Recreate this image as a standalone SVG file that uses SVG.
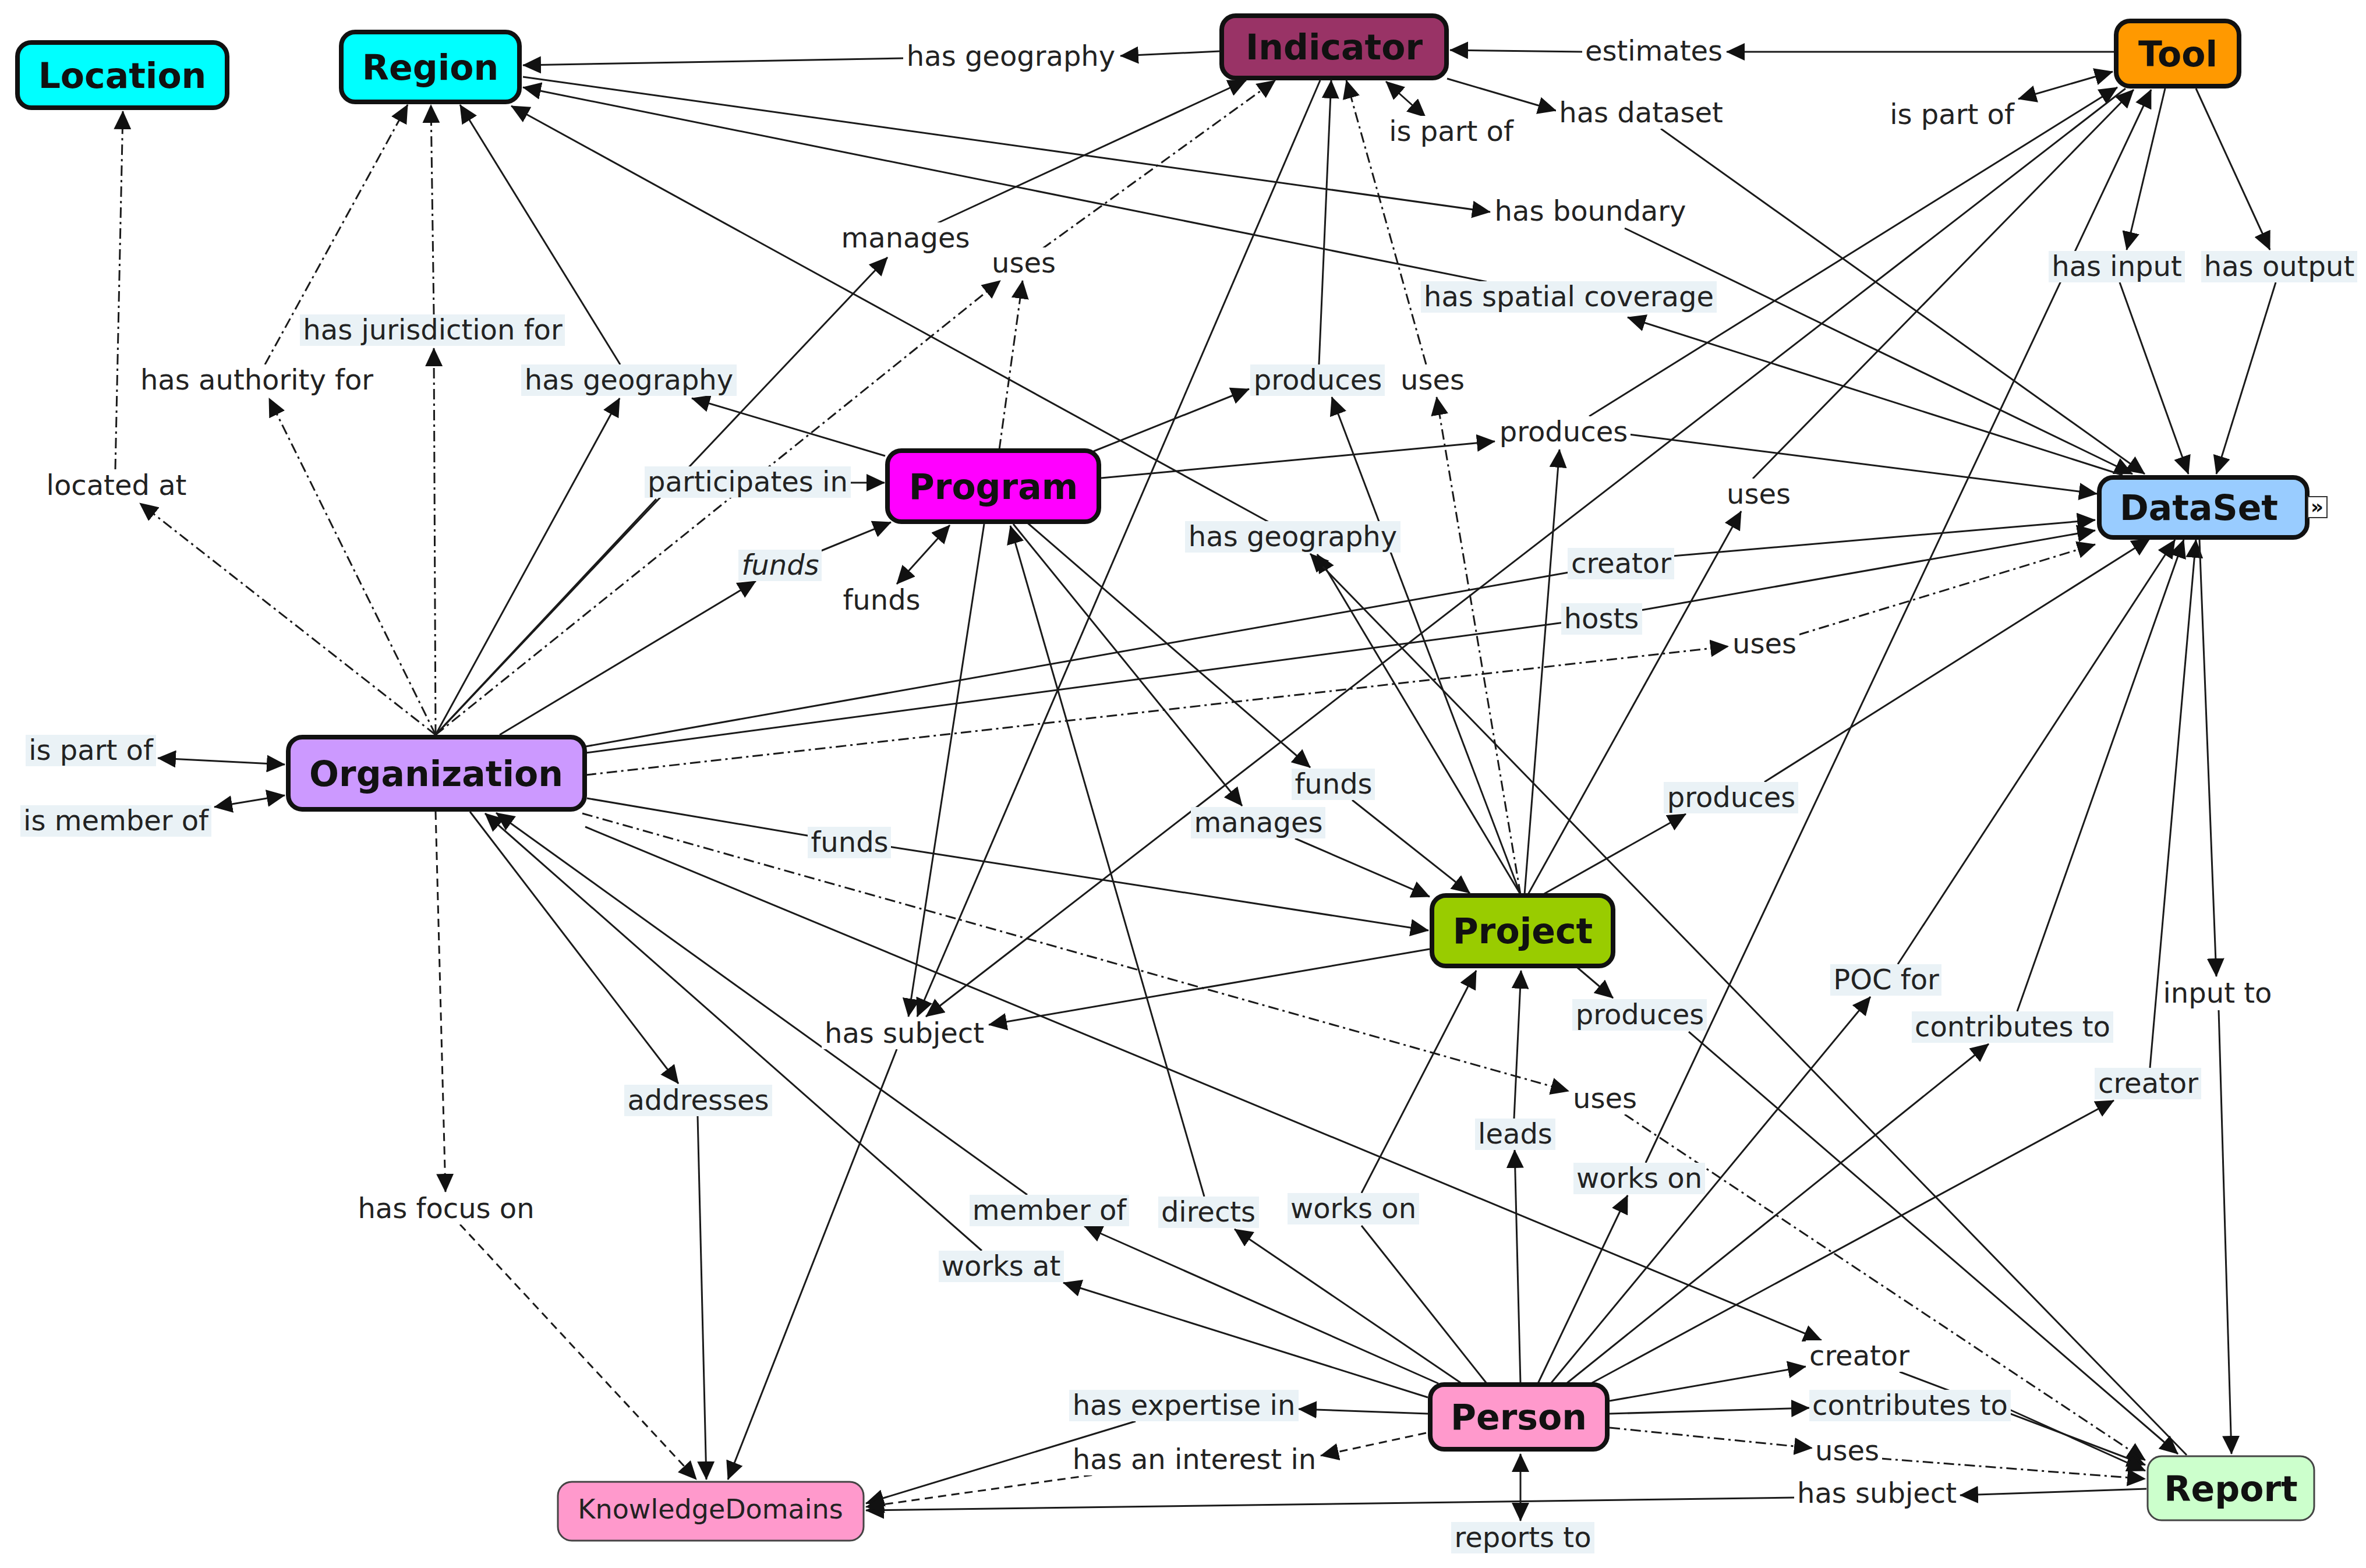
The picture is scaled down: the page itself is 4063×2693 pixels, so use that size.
<svg xmlns="http://www.w3.org/2000/svg" width="4063" height="2693" viewBox="0 0 4063 2693">
<style>
.nr{stroke:#111;stroke-width:8}
.tn{stroke:#444;stroke-width:3}
.nt{font-family:"DejaVu Sans",Verdana,sans-serif;font-weight:bold;font-size:60px;text-anchor:middle;fill:#111}
.kt{font-family:"DejaVu Sans",Verdana,sans-serif;font-size:46px;text-anchor:middle;fill:#222}
.lt{font-family:"DejaVu Sans",Verdana,sans-serif;font-size:48px;text-anchor:middle;fill:#222}
.lb{fill:#eaf2f6}
.lw{fill:#fff}
#connectors line{stroke:#1a1a1a;stroke-width:3;fill:none}
.e{marker-end:url(#a)}
.b{marker-start:url(#a);marker-end:url(#a)}
.dd{stroke-dasharray:18 7 4 7}
.ds{stroke-dasharray:14 9}
</style>
<defs>
<marker id="a" viewBox="0 0 32 30" refX="31" refY="15" markerWidth="32" markerHeight="30" markerUnits="userSpaceOnUse" orient="auto-start-reverse"><path d="M0,0 L32,15 L0,30 z" fill="#111"/></marker>
</defs>
<rect x="0" y="0" width="4063" height="2693" fill="#fff"/>
<g id="connectors">
<line class="e" x1="2094" y1="88" x2="1924" y2="96"/>
<line class="e" x1="1552" y1="100" x2="898" y2="112"/>
<line class="e" x1="3630" y1="89" x2="2965" y2="89"/>
<line class="e" x1="2720" y1="89" x2="2490" y2="86"/>
<line class="b" x1="2380" y1="140" x2="2448" y2="201"/>
<line class="e" x1="2485" y1="135" x2="2672" y2="190"/>
<line class="e" x1="2852" y1="221" x2="3683" y2="814"/>
<line class="e" x1="898" y1="132" x2="2559" y2="364"/>
<line class="e" x1="2790" y1="392" x2="3662" y2="814"/>
<line class="e" x1="3645" y1="816" x2="2795" y2="545"/>
<line class="e" x1="2553" y1="484" x2="898" y2="150"/>
<line class="e" x1="748" y1="1262" x2="1524" y2="442"/>
<line class="e" x1="1608" y1="384" x2="2140" y2="138"/>
<line class="e dd" x1="748" y1="1262" x2="1718" y2="482"/>
<line class="e dd" x1="1716" y1="772" x2="1756" y2="482"/>
<line class="e dd" x1="1790" y1="427" x2="2190" y2="138"/>
<line class="e dd" x1="748" y1="1262" x2="745" y2="598"/>
<line class="e dd" x1="745" y1="540" x2="740" y2="180"/>
<line class="e dd" x1="748" y1="1262" x2="462" y2="684"/>
<line class="e dd" x1="455" y1="626" x2="700" y2="180"/>
<line class="e dd" x1="748" y1="1262" x2="240" y2="864"/>
<line class="e dd" x1="198" y1="806" x2="211" y2="191"/>
<line class="e" x1="748" y1="1262" x2="1064" y2="684"/>
<line class="e" x1="1520" y1="783" x2="1188" y2="684"/>
<line class="e" x1="1065" y1="626" x2="790" y2="180"/>
<line x1="748" y1="1262" x2="1127" y2="857"/>
<line class="e" x1="1460" y1="829" x2="1519" y2="829"/>
<line class="e" x1="858" y1="1262" x2="1298" y2="998"/>
<line class="e" x1="1410" y1="946" x2="1530" y2="897"/>
<line class="b" x1="1631" y1="902" x2="1540" y2="1003"/>
<line class="e" x1="1878" y1="775" x2="2145" y2="668"/>
<line class="e" x1="2611" y1="1536" x2="2287" y2="682"/>
<line class="e" x1="2265" y1="626" x2="2286" y2="138"/>
<line class="e dd" x1="2611" y1="1536" x2="2467" y2="682"/>
<line class="e dd" x1="2449" y1="626" x2="2312" y2="138"/>
<line class="e" x1="1891" y1="821" x2="2567" y2="758"/>
<line class="e" x1="2618" y1="1536" x2="2678" y2="772"/>
<line class="e" x1="2797" y1="746" x2="3601" y2="848"/>
<line class="e" x1="2729" y1="715" x2="3636" y2="150"/>
<line class="e" x1="2624" y1="1536" x2="2990" y2="878"/>
<line class="e" x1="3010" y1="822" x2="3664" y2="154"/>
<line class="e" x1="3718" y1="152" x2="3652" y2="429"/>
<line class="e" x1="3640" y1="485" x2="3758" y2="814"/>
<line class="e" x1="3771" y1="152" x2="3898" y2="429"/>
<line class="e" x1="3908" y1="485" x2="3806" y2="814"/>
<line class="b" x1="3628" y1="123" x2="3466" y2="170"/>
<line class="e" x1="2611" y1="1536" x2="2262" y2="952"/>
<line class="e" x1="3755" y1="2499" x2="2250" y2="951"/>
<line class="e" x1="2185" y1="900" x2="878" y2="182"/>
<line x1="1006" y1="1282" x2="2694" y2="983"/>
<line class="e" x1="2872" y1="955" x2="3598" y2="893"/>
<line x1="1006" y1="1293" x2="2686" y2="1069"/>
<line class="e" x1="2818" y1="1048" x2="3598" y2="911"/>
<line class="e dd" x1="1006" y1="1331" x2="2968" y2="1110"/>
<line class="e dd" x1="3089" y1="1090" x2="3598" y2="935"/>
<line class="e" x1="1762" y1="896" x2="2250" y2="1318"/>
<line class="e" x1="2322" y1="1374" x2="2524" y2="1534"/>
<line class="e" x1="1740" y1="900" x2="2133" y2="1384"/>
<line class="e" x1="2224" y1="1440" x2="2455" y2="1540"/>
<line x1="1008" y1="1371" x2="1392" y2="1436"/>
<line class="e" x1="1526" y1="1454" x2="2453" y2="1598"/>
<line class="e" x1="1690" y1="900" x2="1560" y2="1746"/>
<line class="e" x1="2267" y1="138" x2="1575" y2="1746"/>
<line class="e" x1="3650" y1="152" x2="1590" y2="1746"/>
<line class="e" x1="2455" y1="1630" x2="1698" y2="1760"/>
<line class="e" x1="1540" y1="1802" x2="1250" y2="2541"/>
<line class="e" x1="2650" y1="1536" x2="2895" y2="1398"/>
<line class="e" x1="3030" y1="1343" x2="3692" y2="925"/>
<line class="e" x1="2709" y1="1662" x2="2770" y2="1714"/>
<line class="e" x1="2900" y1="1772" x2="3740" y2="2497"/>
<line class="e" x1="2663" y1="2376" x2="3212" y2="1712"/>
<line class="e" x1="3259" y1="1656" x2="3735" y2="927"/>
<line class="e" x1="2690" y1="2376" x2="3415" y2="1793"/>
<line class="e" x1="3464" y1="1737" x2="3750" y2="927"/>
<line class="e" x1="2732" y1="2376" x2="3630" y2="1890"/>
<line class="e" x1="3692" y1="1834" x2="3771" y2="927"/>
<line class="e" x1="3777" y1="927" x2="3806" y2="1677"/>
<line class="e" x1="3810" y1="1735" x2="3832" y2="2497"/>
<line class="e" x1="2641" y1="2376" x2="2795" y2="2053"/>
<line class="e" x1="2826" y1="1997" x2="3694" y2="154"/>
<line class="e" x1="807" y1="1394" x2="1165" y2="1861"/>
<line class="e" x1="1198" y1="1917" x2="1213" y2="2541"/>
<line class="e ds" x1="748" y1="1394" x2="765" y2="2047"/>
<line class="e ds" x1="790" y1="2103" x2="1196" y2="2541"/>
<line class="e" x1="2470" y1="2376" x2="1862" y2="2106"/>
<line class="e" x1="1764" y1="2052" x2="852" y2="1396"/>
<line class="e" x1="2452" y1="2400" x2="1826" y2="2203"/>
<line class="e" x1="1686" y1="2148" x2="833" y2="1397"/>
<line class="e" x1="2510" y1="2376" x2="2120" y2="2111"/>
<line class="e" x1="2068" y1="2055" x2="1735" y2="903"/>
<line x1="2553" y1="2376" x2="2338" y2="2105"/>
<line class="e" x1="2338" y1="2049" x2="2535" y2="1667"/>
<line class="e" x1="2611" y1="2376" x2="2601" y2="1975"/>
<line class="e" x1="2600" y1="1921" x2="2612" y2="1667"/>
<line class="e dd" x1="1000" y1="1397" x2="2694" y2="1874"/>
<line class="e dd" x1="2790" y1="1914" x2="3684" y2="2508"/>
<line class="e" x1="1005" y1="1420" x2="3128" y2="2302"/>
<line class="e" x1="2764" y1="2406" x2="3101" y2="2347"/>
<line class="e" x1="3262" y1="2356" x2="3684" y2="2516"/>
<line class="e" x1="2764" y1="2428" x2="3107" y2="2418"/>
<line class="e" x1="3451" y1="2421" x2="3684" y2="2526"/>
<line class="e dd" x1="2764" y1="2452" x2="3112" y2="2487"/>
<line class="e dd" x1="3230" y1="2505" x2="3684" y2="2540"/>
<line class="e" x1="3686" y1="2557" x2="3366" y2="2568"/>
<line class="e" x1="3083" y1="2572" x2="1487" y2="2594"/>
<line class="e" x1="2452" y1="2428" x2="2230" y2="2420"/>
<line class="e" x1="1950" y1="2441" x2="1487" y2="2582"/>
<line class="e ds" x1="2449" y1="2461" x2="2268" y2="2500"/>
<line class="e ds" x1="1898" y1="2530" x2="1487" y2="2588"/>
<line class="b" x1="2611" y1="2497" x2="2611" y2="2612"/>
<line class="b" x1="271" y1="1302" x2="489" y2="1313"/>
<line class="b" x1="368" y1="1386" x2="489" y2="1366"/>
</g>
<g id="labels">
<g id="lbl-has-geography-1"><rect class="lw" x="1551" y="70" width="370" height="54"/><text class="lt" x="1736" y="113">has geography</text></g>
<g id="lbl-estimates"><rect class="lw" x="2717" y="61" width="246" height="54"/><text class="lt" x="2840" y="104">estimates</text></g>
<g id="lbl-is-part-of-1"><rect class="lw" x="2380" y="199" width="224" height="54"/><text class="lt" x="2492" y="242">is part of</text></g>
<g id="lbl-has-dataset"><rect class="lw" x="2672" y="167" width="292" height="54"/><text class="lt" x="2818" y="210">has dataset</text></g>
<g id="lbl-has-boundary"><rect class="lw" x="2561" y="336" width="339" height="54"/><text class="lt" x="2731" y="379">has boundary</text></g>
<g id="lbl-has-spatial-coverage"><rect class="lb" x="2440" y="483" width="508" height="54"/><text class="lt" x="2694" y="526">has spatial coverage</text></g>
<g id="lbl-manages-1"><rect class="lw" x="1439" y="382" width="231" height="54"/><text class="lt" x="1555" y="425">manages</text></g>
<g id="lbl-uses-1"><rect class="lw" x="1698" y="425" width="120" height="54"/><text class="lt" x="1758" y="468">uses</text></g>
<g id="lbl-has-jurisdiction-for"><rect class="lb" x="515" y="540" width="455" height="54"/><text class="lt" x="743" y="583">has jurisdiction for</text></g>
<g id="lbl-has-authority-for"><rect class="lw" x="236" y="626" width="410" height="54"/><text class="lt" x="441" y="669">has authority for</text></g>
<g id="lbl-has-geography-2"><rect class="lb" x="895" y="626" width="370" height="54"/><text class="lt" x="1080" y="669">has geography</text></g>
<g id="lbl-located-at"><rect class="lw" x="75" y="807" width="251" height="54"/><text class="lt" x="200" y="850">located at</text></g>
<g id="lbl-participates-in"><rect class="lb" x="1107" y="801" width="354" height="54"/><text class="lt" x="1284" y="844">participates in</text></g>
<g id="lbl-funds-1"><rect class="lb" x="1268" y="944" width="143" height="54"/><text class="lt" x="1340" y="987" font-style="italic">funds</text></g>
<g id="lbl-funds-2"><rect class="lw" x="1442" y="1004" width="143" height="54"/><text class="lt" x="1514" y="1047">funds</text></g>
<g id="lbl-produces-1"><rect class="lb" x="2147" y="626" width="231" height="54"/><text class="lt" x="2263" y="669">produces</text></g>
<g id="lbl-uses-2"><rect class="lw" x="2400" y="626" width="120" height="54"/><text class="lt" x="2460" y="669">uses</text></g>
<g id="lbl-produces-2"><rect class="lw" x="2569" y="715" width="231" height="54"/><text class="lt" x="2685" y="758">produces</text></g>
<g id="lbl-uses-3"><rect class="lw" x="2960" y="822" width="120" height="54"/><text class="lt" x="3020" y="865">uses</text></g>
<g id="lbl-has-input"><rect class="lb" x="3518" y="431" width="234" height="54"/><text class="lt" x="3635" y="474">has input</text></g>
<g id="lbl-has-output"><rect class="lb" x="3780" y="431" width="268" height="54"/><text class="lt" x="3914" y="474">has output</text></g>
<g id="lbl-is-part-of-2"><rect class="lw" x="3240" y="170" width="224" height="54"/><text class="lt" x="3352" y="213">is part of</text></g>
<g id="lbl-has-geography-3"><rect class="lb" x="2035" y="895" width="370" height="54"/><text class="lt" x="2220" y="938">has geography</text></g>
<g id="lbl-creator-1"><rect class="lb" x="2692" y="941" width="183" height="54"/><text class="lt" x="2784" y="984">creator</text></g>
<g id="lbl-hosts"><rect class="lb" x="2681" y="1036" width="139" height="54"/><text class="lt" x="2750" y="1079">hosts</text></g>
<g id="lbl-uses-4"><rect class="lw" x="2970" y="1079" width="120" height="54"/><text class="lt" x="3030" y="1122">uses</text></g>
<g id="lbl-funds-3"><rect class="lb" x="2218" y="1320" width="143" height="54"/><text class="lt" x="2290" y="1363">funds</text></g>
<g id="lbl-manages-2"><rect class="lb" x="2045" y="1386" width="231" height="54"/><text class="lt" x="2161" y="1429">manages</text></g>
<g id="lbl-produces-3"><rect class="lb" x="2857" y="1343" width="231" height="54"/><text class="lt" x="2973" y="1386">produces</text></g>
<g id="lbl-is-part-of-3"><rect class="lb" x="44" y="1262" width="224" height="54"/><text class="lt" x="156" y="1305">is part of</text></g>
<g id="lbl-is-member-of"><rect class="lb" x="35" y="1383" width="328" height="54"/><text class="lt" x="199" y="1426">is member of</text></g>
<g id="lbl-funds-4"><rect class="lb" x="1387" y="1420" width="143" height="54"/><text class="lt" x="1459" y="1463">funds</text></g>
<g id="lbl-has-subject-1"><rect class="lw" x="1411" y="1748" width="284" height="54"/><text class="lt" x="1553" y="1791">has subject</text></g>
<g id="lbl-produces-4"><rect class="lb" x="2700" y="1716" width="231" height="54"/><text class="lt" x="2816" y="1759">produces</text></g>
<g id="lbl-poc-for"><rect class="lb" x="3143" y="1656" width="191" height="54"/><text class="lt" x="3239" y="1699">POC for</text></g>
<g id="lbl-contributes-to-1"><rect class="lb" x="3283" y="1737" width="346" height="54"/><text class="lt" x="3456" y="1780">contributes to</text></g>
<g id="lbl-input-to"><rect class="lw" x="3710" y="1679" width="197" height="54"/><text class="lt" x="3808" y="1722">input to</text></g>
<g id="lbl-creator-2"><rect class="lb" x="3597" y="1834" width="183" height="54"/><text class="lt" x="3689" y="1877">creator</text></g>
<g id="lbl-addresses"><rect class="lb" x="1072" y="1863" width="254" height="54"/><text class="lt" x="1199" y="1906">addresses</text></g>
<g id="lbl-has-focus-on"><rect class="lw" x="610" y="2049" width="313" height="54"/><text class="lt" x="766" y="2092">has focus on</text></g>
<g id="lbl-member-of"><rect class="lb" x="1665" y="2052" width="274" height="54"/><text class="lt" x="1802" y="2095">member of</text></g>
<g id="lbl-directs"><rect class="lb" x="1989" y="2055" width="173" height="54"/><text class="lt" x="2075" y="2098">directs</text></g>
<g id="lbl-works-on-1"><rect class="lb" x="2211" y="2049" width="226" height="54"/><text class="lt" x="2324" y="2092">works on</text></g>
<g id="lbl-leads"><rect class="lb" x="2533" y="1921" width="138" height="54"/><text class="lt" x="2602" y="1964">leads</text></g>
<g id="lbl-uses-5"><rect class="lw" x="2696" y="1860" width="120" height="54"/><text class="lt" x="2756" y="1903">uses</text></g>
<g id="lbl-works-on-2"><rect class="lb" x="2702" y="1997" width="226" height="54"/><text class="lt" x="2815" y="2040">works on</text></g>
<g id="lbl-works-at"><rect class="lb" x="1612" y="2148" width="215" height="54"/><text class="lt" x="1719" y="2191">works at</text></g>
<g id="lbl-has-expertise-in"><rect class="lb" x="1836" y="2387" width="394" height="54"/><text class="lt" x="2033" y="2430">has expertise in</text></g>
<g id="lbl-has-an-interest-in"><rect class="lw" x="1837" y="2480" width="429" height="54"/><text class="lt" x="2051" y="2523">has an interest in</text></g>
<g id="lbl-reports-to"><rect class="lb" x="2492" y="2614" width="246" height="54"/><text class="lt" x="2615" y="2657">reports to</text></g>
<g id="lbl-creator-3"><rect class="lw" x="3101" y="2302" width="183" height="54"/><text class="lt" x="3193" y="2345">creator</text></g>
<g id="lbl-contributes-to-2"><rect class="lb" x="3107" y="2387" width="346" height="54"/><text class="lt" x="3280" y="2430">contributes to</text></g>
<g id="lbl-uses-6"><rect class="lw" x="3112" y="2465" width="120" height="54"/><text class="lt" x="3172" y="2508">uses</text></g>
<g id="lbl-has-subject-2"><rect class="lw" x="3081" y="2538" width="284" height="54"/><text class="lt" x="3223" y="2581">has subject</text></g>
</g>
<g id="node-location"><rect class="nr" x="30" y="73" width="360" height="112" rx="24" fill="#00ffff"/><text class="nt" x="210" y="151">Location</text></g>
<g id="node-region"><rect class="nr" x="586" y="55" width="306" height="120" rx="24" fill="#00ffff"/><text class="nt" x="739" y="137">Region</text></g>
<g id="node-indicator"><rect class="nr" x="2098" y="27" width="386" height="107" rx="24" fill="#993366"/><text class="nt" x="2291" y="102">Indicator</text></g>
<g id="node-tool"><rect class="nr" x="3634" y="36" width="211" height="112" rx="24" fill="#ff9900"/><text class="nt" x="3740" y="114">Tool</text></g>
<g id="node-dataset"><rect class="nr" x="3605" y="820" width="357" height="103" rx="24" fill="#99ccff"/><text class="nt" x="3776" y="893">DataSet</text><rect x="3963" y="853" width="33" height="36" fill="#fff" stroke="#333" stroke-width="2"/><text x="3979" y="882" font-family="DejaVu Sans,sans-serif" font-size="34" font-weight="bold" text-anchor="middle" fill="#111">»</text></g>
<g id="node-program"><rect class="nr" x="1524" y="774" width="363" height="122" rx="24" fill="#ff00ff"/><text class="nt" x="1706" y="857">Program</text></g>
<g id="node-organization"><rect class="nr" x="495" y="1266" width="509" height="124" rx="24" fill="#cc99ff"/><text class="nt" x="749" y="1350">Organization</text></g>
<g id="node-project"><rect class="nr" x="2459" y="1538" width="311" height="121" rx="24" fill="#99cc00"/><text class="nt" x="2615" y="1620">Project</text></g>
<g id="node-person"><rect class="nr" x="2456" y="2378" width="304" height="111" rx="24" fill="#ff99cc"/><text class="nt" x="2608" y="2455">Person</text></g>
<g id="node-report"><rect class="tn" x="3688" y="2501" width="286" height="110" rx="24" fill="#ccffcc"/><text class="nt" x="3831" y="2578">Report</text></g>
<g id="node-knowledgedomains"><rect class="tn" x="958" y="2545" width="525" height="101" rx="24" fill="#ff99cc"/><text class="kt" x="1220" y="2608">KnowledgeDomains</text></g>
</svg>
